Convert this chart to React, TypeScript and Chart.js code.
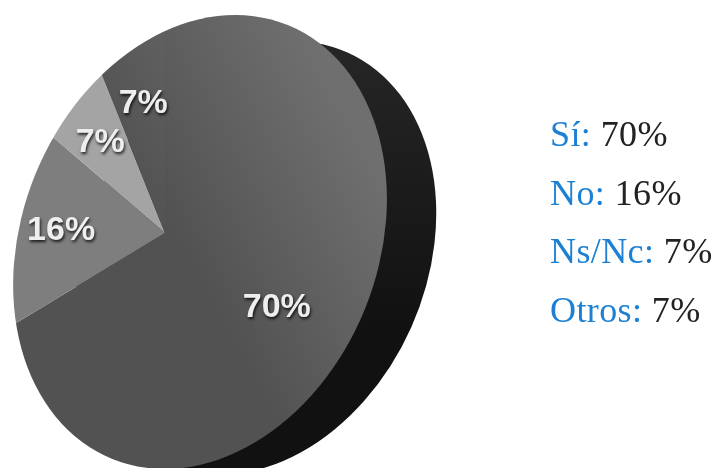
import React, { useEffect, useRef } from "react";
import { Chart, registerables } from "chart.js";

Chart.register(...registerables);

const categories = ["Sí", "No", "Ns/Nc", "Otros"];
const shares = [70, 16, 7, 7];
const sliceColors = ["#525252", "#7e7e7e", "#a4a4a4", "#545454"];
const valueLabels = ["70%", "16%", "7%", "7%"];

// Presentation of the photographed 3D pie
const W = 716;
const H = 468;
const APEX = { x: 165, y: 233 };
const REACH = 400;
const SHEAR = { a: 0.789, c: -0.152, k: 1 };
const FACE = { x: 200, y: 242, rx: 178, ry: 234, rot: (22 * Math.PI) / 180 };
const SIDE = { x: 256, y: 258, rx: 170, ry: 225, rot: (24 * Math.PI) / 180 };
const LABEL_RADII = [0.43, 0.335, 0.335, 0.345];
const LABEL_NUDGE = [[2, -5], [0, 3], [0, 3], [2, 1]];

const ellipsePath = (ctx: CanvasRenderingContext2D, e: typeof FACE) => {
  ctx.beginPath();
  ctx.ellipse(e.x, e.y, e.rx, e.ry, e.rot, 0, Math.PI * 2);
};

const piePerspective = {
  id: "piePerspective",
  beforeDatasetsDraw(chart: any) {
    const ctx: CanvasRenderingContext2D = chart.ctx;
    const arc = chart.getDatasetMeta(0).data[0];
    const s = REACH / arc.outerRadius;
    ctx.save();
    ellipsePath(ctx, SIDE);
    const side = ctx.createLinearGradient(0, 60, 0, 330);
    side.addColorStop(0, "#252525");
    side.addColorStop(1, "#111111");
    ctx.fillStyle = side;
    ctx.fill();
    ellipsePath(ctx, FACE);
    ctx.clip();
    const a = SHEAR.a * s;
    const c = SHEAR.c * s;
    const k = SHEAR.k * s;
    ctx.transform(a, c, 0, k, APEX.x - a * arc.x, APEX.y - c * arc.x - k * arc.y);
  },
  afterDatasetsDraw(chart: any) {
    const ctx: CanvasRenderingContext2D = chart.ctx;
    ctx.restore();
    ctx.save();
    ellipsePath(ctx, FACE);
    ctx.clip();
    const g = ctx.createLinearGradient(210, 300, 395, 200);
    g.addColorStop(0, "rgba(255,255,255,0)");
    g.addColorStop(1, "rgba(255,255,255,0.17)");
    ctx.fillStyle = g;
    ctx.fillRect(0, 0, W, H);
    ctx.restore();

    const meta = chart.getDatasetMeta(0).data;
    ctx.save();
    ctx.font = "bold 34px 'Liberation Sans'";
    ctx.textAlign = "center";
    ctx.textBaseline = "middle";
    ctx.fillStyle = "#eeeeee";
    ctx.shadowColor = "rgba(0,0,0,0.8)";
    ctx.shadowBlur = 3;
    ctx.shadowOffsetX = 1;
    ctx.shadowOffsetY = 2;
    meta.forEach((el: any, i: number) => {
      const mid = (el.startAngle + el.endAngle) / 2;
      const r = LABEL_RADII[i] * REACH;
      const ux = r * Math.cos(mid);
      const uy = r * Math.sin(mid);
      const x = APEX.x + SHEAR.a * ux + LABEL_NUDGE[i][0];
      const y = APEX.y + SHEAR.c * ux + SHEAR.k * uy + LABEL_NUDGE[i][1];
      ctx.fillText(valueLabels[i], x, y);
    });
    ctx.restore();
  },
};

export default function App() {
  const ref = useRef<HTMLCanvasElement>(null);
  useEffect(() => {
    const chart = new Chart(ref.current!, {
      type: "pie",
      data: {
        labels: categories,
        datasets: [{ data: shares, backgroundColor: sliceColors, borderWidth: 0 }],
      },
      options: {
        animation: false,
        responsive: false,
        events: [],
        plugins: { legend: { display: false }, tooltip: { enabled: false } },
      },
      plugins: [piePerspective],
    });
    return () => chart.destroy();
  }, []);

  return (
    <div style={{ position: "fixed", left: 0, top: 0, width: W, height: H, background: "#fff", overflow: "hidden" }}>
      <canvas ref={ref} width={W} height={H} style={{ position: "absolute", left: 0, top: 0 }} />
      <div style={{ position: "absolute", left: 550, top: 105, fontFamily: "'Liberation Serif'", fontSize: 36, lineHeight: "58.5px", letterSpacing: 0.4, whiteSpace: "nowrap" }}>
        {categories.map((c, i) => (
          <div key={c}>
            <span style={{ color: "#1c80d4" }}>{c}:</span> <span style={{ color: "#222" }}>{valueLabels[i]}</span>
          </div>
        ))}
      </div>
    </div>
  );
}
